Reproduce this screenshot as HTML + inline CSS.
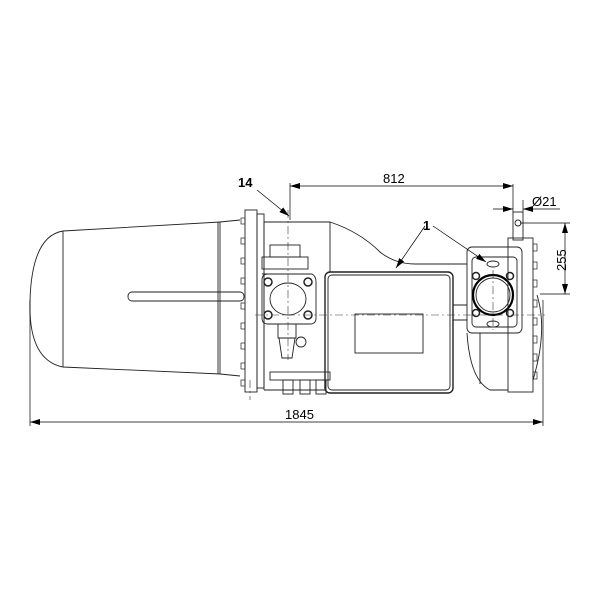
<!DOCTYPE html>
<html><head><style>html,body{margin:0;padding:0;background:#fff}svg{display:block}</style></head>
<body>
<svg width="600" height="599" viewBox="0 0 600 599" xmlns="http://www.w3.org/2000/svg" font-family="Liberation Sans, sans-serif">
<defs>
<marker id="a" markerWidth="10" markerHeight="6" refX="10" refY="3" orient="auto-start-reverse" markerUnits="userSpaceOnUse"><path d="M0,0 L10,3 L0,6z" fill="#000"/></marker>
</defs>
<g fill="none" stroke="#222" stroke-width="0.9">
<!-- tank -->
<path d="M63,231 L220,222 L220,374 L63,367 Q28,360 30,300 Q32,236 63,231Z"/>
<line x1="63" y1="231" x2="63" y2="367"/>
<line x1="218" y1="222" x2="218" y2="374"/>
<path d="M220,222 L240,220 M220,374 L240,376"/>
<!-- rod -->
<rect x="128" y="292" width="116" height="9" rx="4"/>
<!-- flange -->
<rect x="245" y="210" width="12" height="182"/>
<rect x="257" y="214" width="7" height="174"/>
<g stroke-width="0.7">
<rect x="241" y="218" width="4" height="6"/><rect x="241" y="238" width="4" height="6"/><rect x="241" y="258" width="4" height="6"/><rect x="241" y="278" width="4" height="6"/><rect x="241" y="303" width="4" height="6"/><rect x="241" y="323" width="4" height="6"/><rect x="241" y="343" width="4" height="6"/><rect x="241" y="363" width="4" height="6"/><rect x="241" y="380" width="4" height="6"/>
</g>
<!-- housing -->
<path d="M264,222 L330,222 Q360,232 380,252 Q395,264 415,264 L467,264"/>
<line x1="264" y1="222" x2="264" y2="390"/>
<line x1="330" y1="222" x2="330" y2="272"/>
<path d="M264,390 L325,390"/>
<!-- valve -->
<rect x="270" y="245" width="30" height="12"/>
<rect x="262" y="257" width="46" height="12"/>
<path d="M262,274 L312,274 Q316,276 316,282 L316,318 Q316,324 310,324 L268,324 Q262,324 262,318 L262,280 Q262,274 268,274Z"/>
<ellipse cx="288" cy="299" rx="18" ry="16"/>
<circle cx="268" cy="282" r="4" stroke-width="1.5"/><circle cx="308" cy="282" r="4" stroke-width="1.5"/><circle cx="268" cy="315" r="4" stroke-width="1.5"/><circle cx="308" cy="315" r="4" stroke-width="1.5"/>
<rect x="278" y="324" width="18" height="14"/>
<path d="M279,338 L295,338 L292,358 L282,358Z"/>
<circle cx="301" cy="342" r="5"/>
<!-- connectors -->
<rect x="270" y="372" width="60" height="8"/>
<rect x="283" y="380" width="10" height="14"/><rect x="300" y="380" width="10" height="14"/><rect x="316" y="380" width="10" height="14"/>
<!-- motor box -->
<rect x="325" y="272" width="128" height="121" rx="5" stroke-width="1.4"/>
<rect x="328" y="275" width="122" height="115" rx="4"/>
<rect x="355" y="314" width="68" height="39"/>
<!-- neck -->
<path d="M453,305 L467,305 M453,320 L467,320"/>
<path d="M467,333 Q470,380 490,390 L508,390 M480,333 L480,384"/>
<!-- terminal block -->
<rect x="467" y="247" width="55" height="86" rx="5"/>
<rect x="472" y="257" width="45" height="70" rx="4"/>
<circle cx="493" cy="295" r="20" stroke="#000" stroke-width="2.2"/>
<circle cx="493" cy="295" r="17"/>
<circle cx="476" cy="276" r="3.5" stroke-width="1.5"/><circle cx="510" cy="276" r="3.5" stroke-width="1.5"/><circle cx="476" cy="313" r="3.5" stroke-width="1.5"/><circle cx="510" cy="313" r="3.5" stroke-width="1.5"/>
<ellipse cx="493" cy="264" rx="6" ry="3"/><ellipse cx="493" cy="324" rx="6" ry="3"/>
<!-- right flange -->
<rect x="508" y="238" width="25" height="154"/>
<rect x="513" y="212" width="10" height="28"/>
<circle cx="518" cy="223" r="3"/>
<g stroke-width="0.7">
<rect x="533" y="244" width="4" height="7"/><rect x="533" y="262" width="4" height="7"/><rect x="533" y="280" width="4" height="7"/><rect x="533" y="300" width="4" height="7"/><rect x="533" y="318" width="4" height="7"/><rect x="533" y="336" width="4" height="7"/><rect x="533" y="354" width="4" height="7"/><rect x="533" y="372" width="4" height="7"/>
</g>
<path d="M537,295 Q548,330 533,380"/>
</g>
<!-- center lines -->
<g stroke="#333" stroke-width="0.6" stroke-dasharray="8,3,2,3" fill="none">
<line x1="255" y1="315" x2="545" y2="315"/>
<line x1="288" y1="210" x2="288" y2="360"/>
<line x1="493" y1="270" x2="493" y2="330"/>
<line x1="250" y1="380" x2="250" y2="400"/>
</g>
<!-- dimensions -->
<g stroke="#000" stroke-width="0.7" fill="none">
<line x1="290" y1="183" x2="290" y2="220"/>
<line x1="513" y1="184" x2="513" y2="212"/>
<line x1="290" y1="186" x2="513" y2="186" marker-start="url(#a)" marker-end="url(#a)"/>
<line x1="523" y1="200" x2="523" y2="212"/>
<line x1="493" y1="209" x2="513" y2="209" marker-end="url(#a)"/>
<line x1="560" y1="209" x2="523" y2="209" marker-end="url(#a)"/>
<line x1="520" y1="223" x2="570" y2="223"/>
<line x1="540" y1="294" x2="570" y2="294"/>
<line x1="565" y1="223" x2="565" y2="294" marker-start="url(#a)" marker-end="url(#a)"/>
<line x1="30" y1="300" x2="30" y2="426"/>
<line x1="543" y1="300" x2="543" y2="426"/>
<line x1="30" y1="422" x2="543" y2="422" marker-start="url(#a)" marker-end="url(#a)"/>
<line x1="257" y1="190" x2="289" y2="216" marker-end="url(#a)"/>
<line x1="425" y1="226" x2="396" y2="268" marker-end="url(#a)"/>
<line x1="433" y1="226" x2="486" y2="262" marker-end="url(#a)"/>
</g>
<g font-size="13" fill="#000">
<text x="383" y="183">812</text>
<text x="532" y="206">Ø21</text>
<text x="285" y="419">1845</text>
<text x="238" y="187" font-weight="bold">14</text>
<text x="423" y="230" font-weight="bold">1</text>
<text transform="translate(566,271) rotate(-90)">255</text>
</g>
</svg>
</body></html>
